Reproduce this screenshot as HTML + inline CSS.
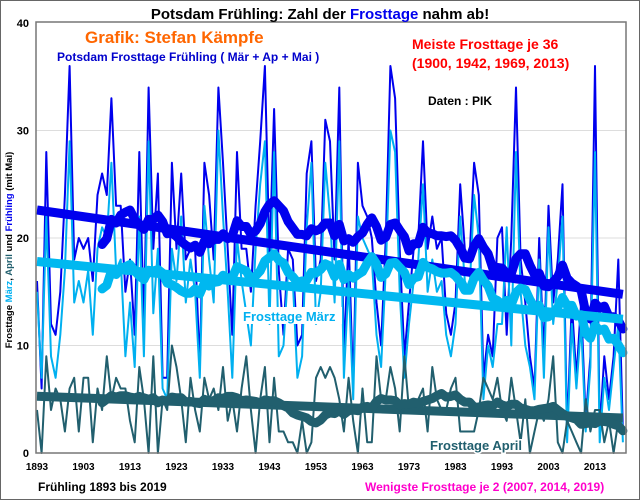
<!DOCTYPE html>
<html><head><meta charset="utf-8"><style>
body{margin:0;background:#fff}
svg{display:block;font-family:"Liberation Sans",Arial,sans-serif}
</style></head><body>
<svg id="chart" width="640" height="500">
<rect x="0.5" y="0.5" width="639" height="499" fill="#fff" stroke="#666"/>
<g id="grid"></g>
<g id="series"></g>
<rect x="36" y="22" width="590" height="431" fill="none" stroke="#777" stroke-width="1.5"/>
<g id="axes" font-size="11" font-weight="bold"></g>
<text x="320" y="19" text-anchor="middle" font-size="15" font-weight="bold">Potsdam Frühling: Zahl der <tspan fill="#0000ee">Frosttage</tspan> nahm ab!</text>
<text x="85" y="43" font-size="17" font-weight="bold" fill="#ff6600">Grafik: Stefan Kämpfe</text>
<text x="57" y="61" font-size="12" font-weight="bold" fill="#0000cc">Potsdam Frosttage Frühling ( Mär + Ap + Mai )</text>
<text x="412" y="49" font-size="14" font-weight="bold" fill="#ff0000">Meiste Frosttage je 36</text>
<text x="412" y="68" font-size="14" font-weight="bold" fill="#ff0000">(1900, 1942, 1969, 2013)</text>
<text x="428" y="105" font-size="12" font-weight="bold" fill="#000">Daten : PIK</text>
<rect x="240" y="307" width="102" height="17" fill="#fff"/>
<text x="243" y="321" font-size="13" font-weight="bold" fill="#00b0f0">Frosttage März</text>
<text x="430" y="450" font-size="13" font-weight="bold" fill="#215f6e" stroke="#fff" stroke-width="3" paint-order="stroke">Frosttage April</text>
<text x="38" y="491" font-size="12" font-weight="bold" fill="#000">Frühling 1893 bis 2019</text>
<text x="365" y="491" font-size="12" font-weight="bold" fill="#ff00cc">Wenigste Frosttage je 2 (2007, 2014, 2019)</text>
<text transform="translate(12,250) rotate(-90)" text-anchor="middle" font-size="9.5" font-weight="bold">Frosttage <tspan fill="#00b0f0">März</tspan>, <tspan fill="#215f6e">April</tspan> und <tspan fill="#0000ee">Frühling</tspan> (mit Mai)</text>
</svg>
<script>
const startYear = 1893;
const spring = [16,6,28,12,11,15,24,36,18,20,
19,20,16,24,26,24,33,23,23,15,
18,11,28,12,34,19,26,7,7,27,
19,26,18,19,19,8,27,24,18,34,
27,19,11,28,19,19,15,23,29,36,
18,32,17,11,19,18,10,11,26,29,
16,18,31,29,18,34,9,20,6,27,
23,22,20,14,10,20,36,33,19,9,
14,19,20,29,19,22,19,20,13,11,
14,25,19,18,27,24,7,11,9,20,
21,11,20,34,18,14,9,6,20,9,
23,14,18,25,2,14,7,14,3,9,
36,2,9,5,9,18,2];
const march = [15,7,22,9,7,11,17,29,14,16,14,17,11,19,21,20,27,17,18,9,14,8,22,9,29,13,19,6,5,19,16,22,14,
18,15,7,23,18,14,30,22,15,7,20,16,13,10,19,25,29,12,28,9,10,17,16,7,9,21,27,12,15,27,22,14,29,
7,16,5,22,20,19,18,11,8,17,30,28,15,7,12,16,18,25,15,18,15,16,11,9,12,22,16,15,24,20,5,10,
8,12,12,21,10,28,15,10,8,5,18,7,21,12,16,22,1,12,6,12,2,8,28,1,7,4,8,12,1];
const april = [4,0,9,4,6,5,2,6,7,2,7,7,1,6,4,9,5,7,6,6,3,1,8,5,0,9,0,5,4,10,8,5,1,
7,4,2,7,5,6,4,8,3,5,2,6,9,4,0,5,8,1,7,2,2,1,1,0,3,0,1,7,8,7,8,7,5,
2,7,3,0,6,1,1,9,5,5,8,6,2,9,4,5,5,6,2,8,5,4,4,6,7,2,2,2,2,4,7,6,
5,7,4,3,7,4,1,5,0,2,4,3,5,9,1,0,3,2,1,0,5,2,4,4,1,3,0,3,2];
const yTicks = [0,10,20,30,40];
const xTickYears = [1893,1903,1913,1923,1933,1943,1953,1963,1973,1983,1993,2003,2013];

const NS = "http://www.w3.org/2000/svg";
const xs = yr => 37 + (yr - 1893) * 4.65;
const ys = v => 453 - v * 10.75;
function mk(tag, attrs, parent){const e=document.createElementNS(NS,tag);for(const k in attrs)e.setAttribute(k,attrs[k]);parent.appendChild(e);return e;}
const grid=document.getElementById('grid'), axes=document.getElementById('axes'), ser=document.getElementById('series');
yTicks.forEach(t=>{
  if(t>0&&t<40){const l=mk('line',{x1:36,x2:626,y1:ys(t),y2:ys(t),stroke:'#ddd','stroke-width':1},grid);
  
  }
  const tx=mk('text',{x:29,y:ys(t)+4,'text-anchor':'end'},axes);tx.textContent=t;
  
  
});
xTickYears.forEach(y=>{
  const tx=mk('text',{x:xs(y),y:470,'text-anchor':'middle','font-size':10},axes);tx.textContent=y;
  
  
});
function pts(arr){return arr.map((v,i)=>xs(startYear+i).toFixed(1)+','+ys(v).toFixed(1)).join(' ');}
function movAvg(arr,n){const out=[];for(let i=n-1;i<arr.length;i++){let s=0;for(let j=i-n+1;j<=i;j++)s+=arr[j];out.push([startYear+i,s/n]);}return out;}
function trend(arr){const n=arr.length;let sx=0,sy=0,sxx=0,sxy=0;arr.forEach((v,i)=>{sx+=i;sy+=v;sxx+=i*i;sxy+=i*v;});const b=(n*sxy-sx*sy)/(n*sxx-sx*sx);const a=(sy-b*sx)/n;return [a,a+b*(n-1)];}
function series(arr,color,name){
  const p=mk('polyline',{points:pts(arr),fill:'none',stroke:color,'stroke-width':2,'stroke-linejoin':'round'},ser);
  
  
}
function smooth(arr,color,name){
  const [a,b]=trend(arr);
  const t=mk('line',{x1:xs(startYear),y1:ys(a),x2:xs(startYear+arr.length-1),y2:ys(b),stroke:color,'stroke-width':9},ser);
  
  
  const m=movAvg(arr,15);
  const p=mk('polyline',{points:m.map(d=>xs(d[0]).toFixed(1)+','+ys(d[1]).toFixed(1)).join(' '),fill:'none',stroke:color,'stroke-width':9,'stroke-linejoin':'round','stroke-linecap':'round'},ser);
  
  
}
series(spring,'#0000ee','spring');
series(march,'#00b0f0','march');
series(april,'#215f6e','april');
smooth(spring,'#0000ee','spring');
smooth(march,'#00b8f0','march');
smooth(april,'#215f6e','april');
</script>
</body></html>
